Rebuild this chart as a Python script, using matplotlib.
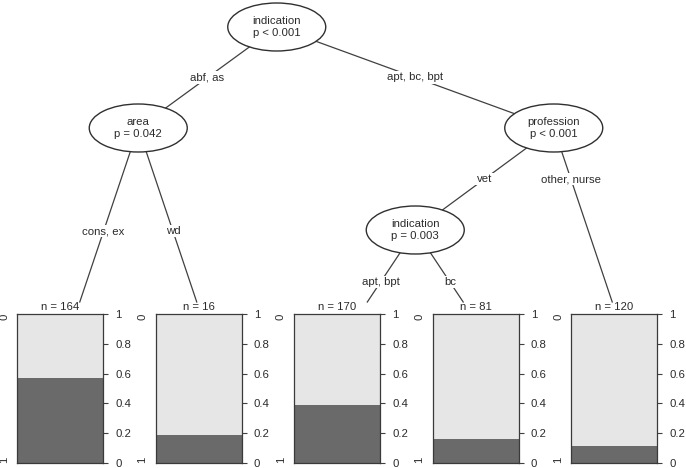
import matplotlib
matplotlib.use("Agg")
import matplotlib.pyplot as plt
from matplotlib.patches import Ellipse

plt.rcParams['font.family'] = ['Liberation Sans', 'DejaVu Sans']

# ================= TREE DATA =================
split_vars = {1: "indication", 2: "area", 5: "profession", 6: "indication"}
split_p = {1: "p < 0.001", 2: "p = 0.042", 5: "p < 0.001", 6: "p = 0.003"}
kids = {1: [2, 5], 2: [3, 4], 5: [6, 9], 6: [7, 8]}
edge_labels = {
    (1, 2): "abf, as", (1, 5): "apt, bc, bpt",
    (2, 3): "cons, ex", (2, 4): "wd",
    (5, 6): "vet", (5, 9): "other, nurse",
    (6, 7): "apt, bpt", (6, 8): "bc",
}
leaf_ids = [3, 4, 7, 8, 9]
leaf_n = [164, 16, 170, 81, 120]
leaf_n1 = [94, 3, 66, 13, 14]     # count in class "1"
right_ticks = [0, 0.2, 0.4, 0.6, 0.8, 1]
right_ticklabels = ["0", "0.2", "0.4", "0.6", "0.8", "1"]
class_labels = ["0", "1"]

# ================= LAYOUT (pixels) =================
W, H = 686, 468
leaf_x0, leaf_dx = 69, 138.5
level_y = {1: 27, 2: 128, 3: 230}
leaf_y = 334
clip_y = 302
bar_top, bar_bot = 314, 463
bar_off, bar_w = -52, 86

TXT = '#2b2b2b'
LINE = '#404040'
LIGHT = '#e6e6e6'
DARK = '#6a6a6a'
FS = 8.2

pos = {}
for i, lid in enumerate(leaf_ids):
    pos[lid] = (leaf_x0 + i * leaf_dx, leaf_y)


def leaves_of(n):
    if n not in kids:
        return [n]
    out = []
    for k in kids[n]:
        out += leaves_of(k)
    return out


def place(n, depth):
    if n not in kids:
        return
    for k in kids[n]:
        place(k, depth + 1)
    left = leaves_of(kids[n][0])
    right = leaves_of(kids[n][1])
    x = (pos[left[-1]][0] + pos[right[0]][0]) / 2
    pos[n] = (x, level_y[depth])


place(1, 1)

fig = plt.figure(figsize=(W / 100, H / 100), dpi=100)
ax = fig.add_axes([0, 0, 1, 1])
ax.set_xlim(0, W)
ax.set_ylim(H, 0)
ax.axis('off')

# edges + labels
for parent, ks in kids.items():
    x0, y0 = pos[parent]
    ylab = (y0 + min(pos[k][1] for k in ks)) / 2
    for k in ks:
        x1, y1 = pos[k]
        if k in leaf_ids:
            t = (clip_y - y0) / (y1 - y0)
            xe, ye = x0 + t * (x1 - x0), clip_y
        else:
            xe, ye = x1, y1
        ax.plot([x0, xe], [y0, ye], color=LINE, lw=0.9, zorder=1)
        xl = x0 + (ylab - y0) / (y1 - y0) * (x1 - x0)
        ax.text(xl, ylab, edge_labels[(parent, k)], ha='center', va='center',
                fontsize=FS, color=TXT, zorder=4,
                bbox=dict(fc='white', ec='none', pad=1.0))

# inner nodes
for n in split_vars:
    x, y = pos[n]
    ax.add_patch(Ellipse((x, y), 98, 48, fc='white', ec='#303030', lw=1.0, zorder=3))
    ax.text(x, y, f"{split_vars[n]}\n{split_p[n]}", ha='center', va='center',
            fontsize=FS, color=TXT, zorder=5, linespacing=1.25)

# terminal panels
for i, lid in enumerate(leaf_ids):
    xc = pos[lid][0]
    left = xc + bar_off
    pax = fig.add_axes([left / W, (H - bar_bot) / H, bar_w / W, (bar_bot - bar_top) / H])
    frac = leaf_n1[i] / leaf_n[i]
    pax.bar(0, 1, width=1, color=LIGHT, lw=0)
    pax.bar(0, frac, width=1, color=DARK, lw=0)
    pax.set_xlim(-0.5, 0.5)
    pax.set_ylim(0, 1)
    pax.set_xticks([])
    pax.yaxis.tick_right()
    pax.set_yticks(right_ticks)
    pax.set_yticklabels(right_ticklabels)
    pax.tick_params(axis='y', length=3.8, width=0.8, pad=5, labelsize=FS,
                    colors=LINE, labelcolor=TXT)
    for sp in pax.spines.values():
        sp.set_color('#3a3a3a')
        sp.set_linewidth(0.9)

    ax.text(left + bar_w / 2, 307, f"n = {leaf_n[i]}", ha='center', va='center',
            fontsize=FS, color=TXT, zorder=5)
    ax.text(left - 13, bar_top + 3, class_labels[0], rotation=90, ha='center',
            va='center', fontsize=FS, color=TXT)
    ax.text(left - 13, bar_bot - 3, class_labels[1], rotation=90, ha='center',
            va='center', fontsize=FS, color=TXT)

fig.savefig("out.png", dpi=100)
